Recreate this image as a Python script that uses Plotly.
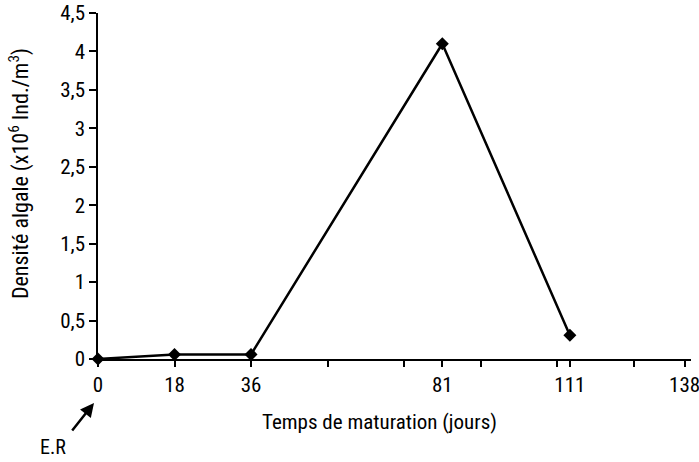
import plotly.graph_objects as go

jours = [0, 18, 36, 81, 111]
densite = [0, 0.06, 0.06, 4.1, 0.31]
x_ticks = [0, 18, 36, 81, 111, 138]
y_ticks = [0, 0.5, 1, 1.5, 2, 2.5, 3, 3.5, 4, 4.5]
y_labels = ["0", "0,5", "1", "1,5", "2", "2,5", "3", "3,5", "4", "4,5"]

FONT = "Liberation Sans Narrow, Roboto Condensed, Arial Narrow, sans-serif"

W, H = 699, 462
l, r, t, b = 98, 8, 13, 103
pw, ph = W - l - r, H - t - b


def px(x):
    return (x - l) / pw


def py(y):
    return (H - b - y) / ph


fig = go.Figure()
fig.add_trace(go.Scatter(
    x=jours, y=densite, mode="lines+markers",
    line=dict(color="black", width=2.5),
    marker=dict(symbol="diamond", size=10, color="black"),
    cliponaxis=False, showlegend=False,
))

fig.update_layout(
    width=W, height=H,
    margin=dict(l=l, r=r, t=t, b=b),
    paper_bgcolor="white", plot_bgcolor="white",
    font=dict(family=FONT, size=20, color="black"),
    xaxis=dict(
        range=[0, 139.5], showline=True, linecolor="black", linewidth=1.5,
        showgrid=False, zeroline=False, automargin=False,
        tickmode="array", tickvals=x_ticks, ticktext=[str(v) for v in x_ticks],
        ticks="outside", ticklen=6, tickcolor="black", tickwidth=1.5,
        ticklabeloverflow="allow",
        minor=dict(tickmode="linear", tick0=0, dtick=18, ticks="outside",
                   ticklen=6, tickcolor="black", tickwidth=1.5, showgrid=False),
        tickfont=dict(size=21),
    ),
    yaxis=dict(
        range=[0, 4.5], showline=True, linecolor="black", linewidth=1.5,
        showgrid=False, zeroline=False, automargin=False,
        tickmode="array", tickvals=y_ticks, ticktext=y_labels,
        ticks="outside", ticklen=7, tickcolor="black", tickwidth=1.5,
        ticklabeloverflow="allow",
        tickfont=dict(size=21),
    ),
)

fig.add_annotation(text="Densité algale (x10<sup>6</sup> Ind./m<sup>3</sup>)",
                   x=px(19), y=py(174), xref="paper", yref="paper",
                   xanchor="center", yanchor="middle",
                   showarrow=False, textangle=-90, font=dict(size=22))
fig.add_annotation(text="Temps de maturation (jours)", x=px(379), y=py(422),
                   xref="paper", yref="paper", xanchor="center",
                   yanchor="middle", showarrow=False, font=dict(size=21))
fig.add_annotation(text="E.R", x=px(53), y=py(447), xref="paper",
                   yref="paper", xanchor="center", yanchor="middle",
                   showarrow=False, font=dict(size=20))

# Arrow pointing at E.R origin
fig.add_annotation(
    x=px(94), y=py(403), xref="paper", yref="paper",
    ax=-23, ay=29, axref="pixel", ayref="pixel",
    showarrow=True, arrowhead=2, arrowsize=1.1, arrowwidth=2.5,
    arrowcolor="black", text="",
)

fig.write_html("out.html",
               config={"displayModeBar": False},
               post_script="document.body.style.margin='0';")
